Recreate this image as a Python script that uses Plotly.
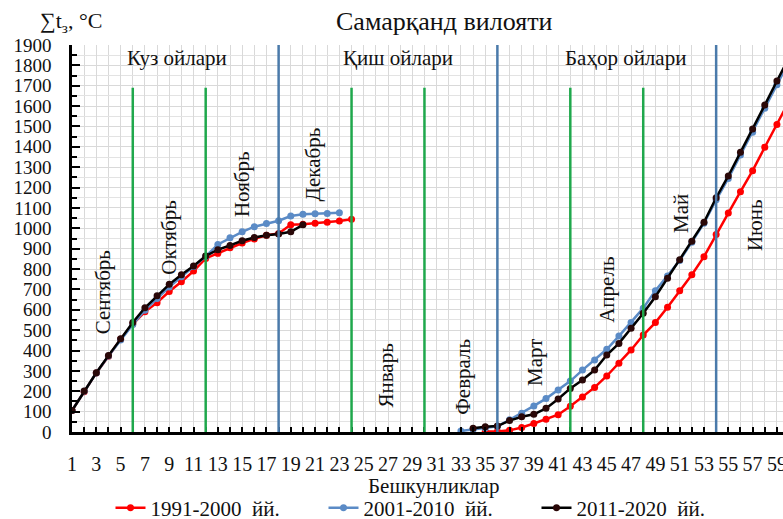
import plotly.graph_objects as go

# Pentad index (Бешкунликлар), September .. June
pentads = list(range(1, 61))

# Accumulated temperature sums, °C (None = no accumulation)
t_1991_2000 = [105, 198, 290, 372, 455, 530, 590, 635, 690, 738,
               790, 852, 877, 905, 928, 948, 966, 975, 1018, 1020,
               1025, 1030, 1036, 1045, None, None, None, None, None, None,
               None, None, None, None, 2, 3, 8, 22, 42, 62,
               85, 126, 172, 219, 275, 337, 403, 476, 537, 612,
               694, 772, 861, 970, 1075, 1180, 1283, 1398, 1510, 1625]

t_2001_2010 = [105, 200, 290, 373, 452, 528, 598, 655, 712, 762,
               812, 862, 921, 954, 983, 1008, 1024, 1037, 1060, 1069,
               1071, 1073, 1077, None, None, None, None, None, None, None,
               None, None, 5, 12, 20, 28, 60, 92, 128, 164,
               206, 250, 304, 353, 406, 471, 538, 608, 694, 766,
               842, 932, 1025, 1140, 1245, 1360, 1472, 1590, 1705, 1820]

t_2011_2020 = [105, 201, 291, 375, 458, 538, 610, 669, 725, 772,
               815, 864, 895, 916, 939, 955, 966, 972, 983, 1017,
               None, None, None, None, None, None, None, None, None, None,
               None, None, None, 18, 26, 29, 56, 75, 87, 116,
               162, 214, 255, 304, 378, 435, 509, 583, 664, 755,
               846, 936, 1030, 1150, 1257, 1373, 1487, 1605, 1723, 1840]

series_names = ["1991-2000  йй.", "2001-2010  йй.", "2011-2020  йй."]
series_colors = ["#ff0000", "#5b8bc6", "#000000"]
marker_colors = ["#ff0000", "#5b8bc6", "#2a0808"]

# Month boundaries (pentad numbers) and season boundaries
month_bounds = [6, 12, 24, 30, 42, 48]
season_bounds = [18, 36, 54]
month_line_top = 1690

months = ["Сентябрь", "Октябрь", "Ноябрь", "Декабрь", "Январь",
          "Февраль", "Март", "Апрель", "Май", "Июнь"]
month_label_x = [3.5, 9.0, 15.0, 20.8, 26.8, 33.1, 39.1, 45.0, 51.1, 57.2]
month_label_y = [688, 955, 1218, 1311, 275, 272, 339, 697, 1075, 1016]

seasons = ["Куз ойлари", "Қиш ойлари", "Баҳор ойлари"]
season_label_x = [9.6, 27.8, 46.5]
season_label_y = 1836

FONT = "Liberation Serif, Times New Roman, serif"
INK = "#111111"

# Pixel geometry of the plotting area
W, H = 783, 519
ML, MR, MT, MB = 72, 0, 45, 87
plot_w = W - ML - MR
plot_h = H - MT - MB


def px_x(px):
    return (px - ML) / plot_w


def px_y(py):
    return (H - MB - py) / plot_h


fig = go.Figure()
for vals, name, lc, mc in zip([t_1991_2000, t_2001_2010, t_2011_2020],
                              series_names, series_colors, marker_colors):
    fig.add_trace(go.Scatter(
        x=pentads, y=vals, name=name, mode="lines+markers",
        line=dict(color=lc, width=2.5),
        marker=dict(color=mc, size=7, line=dict(width=0)),
        connectgaps=False,
    ))

shapes = []
for b in month_bounds:
    shapes.append(dict(type="line", xref="x", yref="y", x0=b, x1=b,
                       y0=0, y1=month_line_top,
                       line=dict(color="#1fa84c", width=2.5), layer="above"))
for b in season_bounds:
    shapes.append(dict(type="line", xref="x", yref="y", x0=b, x1=b,
                       y0=0, y1=1900,
                       line=dict(color="#4a7aaa", width=2.5), layer="above"))

annotations = []
for txt, mx, my in zip(months, month_label_x, month_label_y):
    annotations.append(dict(x=mx, y=my, xref="x", yref="y", text=txt,
                            textangle=-90, showarrow=False,
                            font=dict(family=FONT, size=21, color=INK)))
for txt, sx in zip(seasons, season_label_x):
    annotations.append(dict(x=sx, y=season_label_y, xref="x", yref="y", text=txt,
                            showarrow=False,
                            font=dict(family=FONT, size=21, color=INK)))

# Chart title, y-axis caption and x-axis caption
annotations.append(dict(x=px_x(444), y=px_y(22), xref="paper", yref="paper",
                        xanchor="center", yanchor="middle",
                        text="Самарқанд вилояти", showarrow=False,
                        font=dict(family=FONT, size=26, color=INK)))
annotations.append(dict(x=px_x(38), y=px_y(22), xref="paper", yref="paper",
                        xanchor="left", yanchor="middle",
                        text="∑t<sub>з</sub>, °C", showarrow=False,
                        font=dict(family=FONT, size=22, color=INK)))
annotations.append(dict(x=px_x(433), y=px_y(486), xref="paper", yref="paper",
                        xanchor="center", yanchor="middle",
                        text="Бешкунликлар", showarrow=False,
                        font=dict(family=FONT, size=21, color=INK)))

fig.update_layout(
    width=W, height=H,
    margin=dict(l=ML, r=MR, t=MT, b=MB, autoexpand=False),
    paper_bgcolor="white", plot_bgcolor="white",
    font=dict(family=FONT, size=20, color=INK),
    showlegend=True,
    legend=dict(orientation="h", x=px_x(430), xanchor="center",
                y=px_y(508), yanchor="middle",
                font=dict(family=FONT, size=21, color=INK),
                entrywidth=168, itemwidth=30, bgcolor="rgba(0,0,0,0)"),
    shapes=shapes,
    annotations=annotations,
    xaxis=dict(range=[1, 59.5], tickmode="linear", tick0=1, dtick=2,
               ticks="inside", ticklen=5, tickwidth=1.5, tickcolor="black",
               showline=True, linecolor="black", linewidth=2.5,
               showgrid=True, gridcolor="#d9d9d9", gridwidth=1,
               zeroline=False, ticklabelstandoff=12,
               ticklabeloverflow="allow",
               tickfont=dict(family=FONT, size=20, color=INK),
               minor=dict(dtick=1, tick0=1, ticks="inside", ticklen=5,
                          tickwidth=1.5, tickcolor="black",
                          showgrid=True, gridcolor="#d9d9d9", gridwidth=1)),
    yaxis=dict(range=[0, 1900], tickmode="linear", tick0=0, dtick=100,
               ticks="inside", ticklen=8, tickwidth=2, tickcolor="black",
               showline=True, linecolor="black", linewidth=2.5,
               showgrid=True, gridcolor="#d9d9d9", gridwidth=1,
               zeroline=False, ticklabelstandoff=14,
               tickfont=dict(family=FONT, size=19, color=INK),
               minor=dict(dtick=50, ticks="inside", ticklen=5, tickwidth=2,
                          tickcolor="black", showgrid=True,
                          gridcolor="#e3e3e3", gridwidth=1)),
)

fig.write_html("out.html")
